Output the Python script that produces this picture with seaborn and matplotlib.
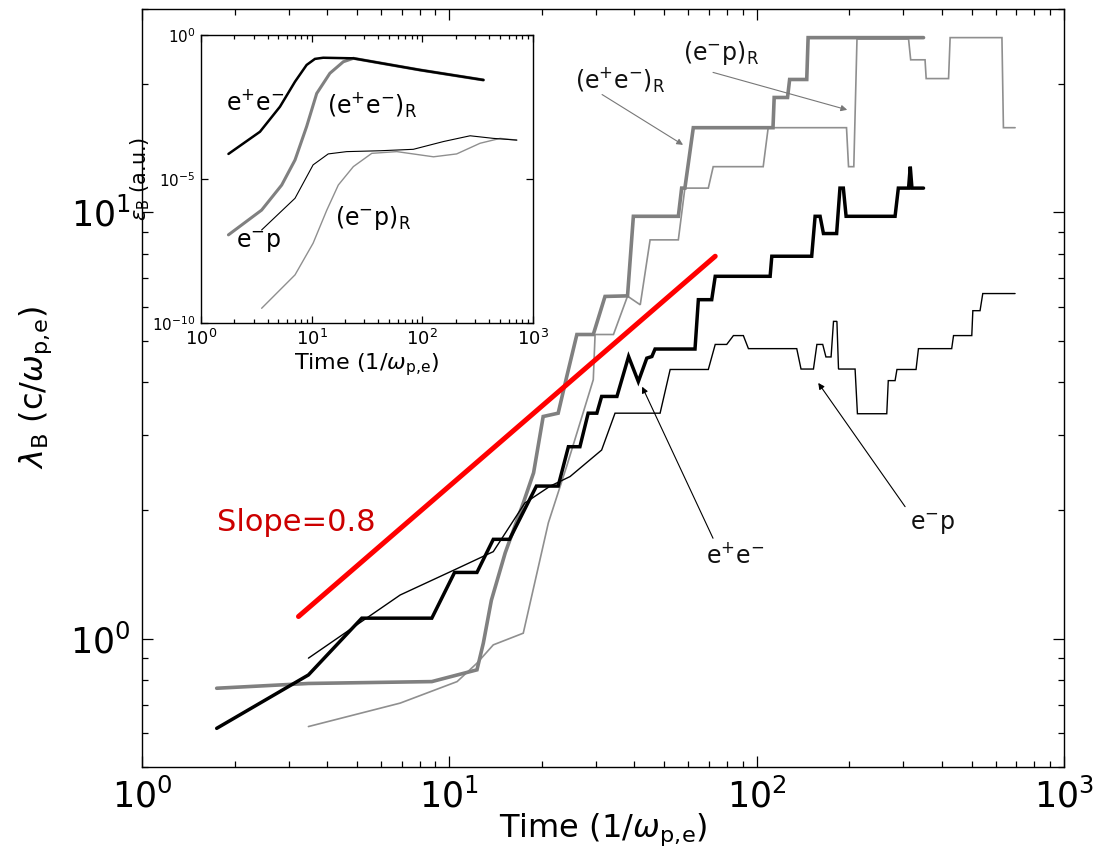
import numpy as np
import pandas as pd
import matplotlib
matplotlib.use('Agg')
import matplotlib.pyplot as plt
import seaborn as sns
from matplotlib.ticker import LogLocator, NullFormatter, NullLocator

sns.set_style("ticks")
plt.rcParams['font.family'] = ['DejaVu Sans']
plt.rcParams['mathtext.fontset'] = 'dejavusans'
for key in ['text.color', 'axes.labelcolor', 'xtick.color', 'ytick.color', 'axes.edgecolor']:
    plt.rcParams[key] = 'black'

# ---- main panel: lambda_B vs time ----
t_ee = [1.75, 3.48, 5.19, 8.77, 10.4, 12.3, 13.9, 15.7, 19.2, 22.6, 24.4, 26.6, 28.3, 30.2,
        31.3, 35.1, 38.3, 41.2, 43.9, 45.6, 46.7, 63.0, 64.6, 71.4, 73.3, 110.6, 112, 151,
        154.9, 160.8, 164.9, 182, 186.6, 191.4, 195.4, 282, 289, 312, 316, 320, 349]
lam_ee = [0.616, 0.822, 1.117, 1.117, 1.43, 1.43, 1.71, 1.71, 2.28, 2.28, 2.82, 2.82, 3.38, 3.38,
          3.70, 3.70, 4.59, 4.01, 4.55, 4.59, 4.78, 4.78, 6.24, 6.24, 7.08, 7.08, 7.89, 7.89,
          9.79, 9.79, 8.92, 8.92, 11.4, 11.4, 9.79, 9.79, 11.4, 11.4, 12.8, 11.4, 11.4]

t_ep = [3.48, 6.92, 10.6, 13.9, 17.6, 21.3, 24.7, 31.3, 34.6, 48.5, 52.3, 69.6, 73.3, 79.9,
        84, 90.5, 94, 135, 139.4, 153, 157, 164, 168, 174.6, 177.8, 182.4, 184.6, 209, 212.7,
        265, 268, 282, 286, 330, 336, 431, 437, 501, 505, 533, 544, 693]
lam_ep = [0.90, 1.266, 1.46, 1.60, 2.08, 2.28, 2.40, 2.77, 3.38, 3.38, 4.28, 4.28, 4.90, 4.90,
          5.14, 5.14, 4.79, 4.79, 4.29, 4.29, 4.90, 4.90, 4.58, 4.58, 5.55, 5.55, 4.29, 4.29, 3.37,
          3.37, 4.03, 4.03, 4.28, 4.28, 4.79, 4.79, 5.14, 5.14, 5.88, 5.88, 6.45, 6.45]

t_eeR = [1.75, 3.48, 8.77, 12.3, 12.9, 13.7, 15.2, 17.4, 18.8, 20.2, 22.6, 24.1, 26.0, 29.4,
         32.1, 38.0, 39.7, 55.6, 57.0, 58.4, 62.2, 113, 114, 126, 128, 145.5, 147, 349]
lam_eeR = [0.765, 0.785, 0.793, 0.845, 0.976, 1.23, 1.59, 2.08, 2.45, 3.32, 3.38, 4.12, 5.17, 5.17,
           6.35, 6.37, 9.79, 9.79, 11.4, 11.4, 15.8, 15.8, 18.6, 18.6, 20.5, 20.5, 25.7, 25.7]

t_epR = [3.48, 6.92, 10.6, 12.3, 13.9, 17.4, 21.0, 24.1, 29.4, 29.8, 34.2, 38.0, 41.8, 45.0,
         55.6, 58.4, 69.6, 72.2, 105, 109, 196, 199, 207, 212, 312, 317, 353, 356, 421, 426,
         628, 635, 693]
lam_epR = [0.622, 0.706, 0.793, 0.876, 0.967, 1.03, 1.87, 2.54, 4.05, 5.17, 5.17, 6.36, 6.07, 8.62,
           8.62, 11.4, 11.4, 12.8, 12.8, 15.8, 15.8, 12.8, 12.8, 25.5, 25.5, 22.8, 22.8, 20.6, 20.6,
           25.7, 25.7, 15.8, 15.8]

t_fit = [3.23, 73.3]
lam_fit = [1.127, 7.89]

# ---- inset: epsilon_B vs time ----
ti_ee = [1.77, 3.41, 5.17, 7.07, 9.0, 10.7, 12.7, 23.8, 95, 356]
eps_ee = [10**-4.13, 10**-3.36, 10**-2.49, 10**-1.62, 10**-1.04, 10**-0.83, 10**-0.79,
          10**-0.81, 10**-1.215, 10**-1.5625]
ti_eeR = [1.77, 3.53, 5.36, 7.07, 9.0, 11.1, 14.6, 19.3, 23.8, 95, 356]
eps_eeR = [10**-6.94, 10**-6.08, 10**-5.21, 10**-4.34, 10**-3.18, 10**-2.03, 10**-1.33,
           10**-0.93, 10**-0.81, 10**-1.215, 10**-1.5625]
ti_ep = [3.53, 7.07, 10.3, 14.1, 20.7, 41.4, 82.8, 155, 270, 438, 713]
eps_ep = [10**-6.77, 10**-5.67, 10**-4.51, 10**-4.13, 10**-4.05, 10**-4.02, 10**-3.97,
          10**-3.70, 10**-3.50, 10**-3.59, 10**-3.65]
ti_epR = [3.53, 7.07, 10.3, 13.7, 17.4, 23.8, 34.9, 58.7, 126, 204, 332, 504, 713]
eps_epR = [10**-9.49, 10**-8.33, 10**-7.23, 10**-6.08, 10**-5.21, 10**-4.57, 10**-4.11,
           10**-4.05, 10**-4.23, 10**-4.13, 10**-3.76, 10**-3.59, 10**-3.65]

BLACK = "#000000"
GRAY_THICK = "#808080"
GRAY_THIN = "#8f8f8f"
OMEGA = r"$\omega_{\mathrm{p,\!e}}$"


def draw(a, t, v, color, lw):
    sns.lineplot(x=t, y=v, ax=a, color=color, lw=lw, sort=False, estimator=None,
                 solid_joinstyle="miter")


def style_log_axes(a, major_len, minor_len, labelsize, pad):
    a.xaxis.set_major_locator(LogLocator(base=10, numticks=10))
    a.xaxis.set_minor_locator(LogLocator(base=10, subs=np.arange(2, 10), numticks=20))
    a.xaxis.set_minor_formatter(NullFormatter())
    a.tick_params(which="both", direction="in", top=True, right=True, width=0.9)
    a.tick_params(which="major", length=major_len, labelsize=labelsize, pad=pad)
    a.tick_params(which="minor", length=minor_len)
    for s in a.spines.values():
        s.set_linewidth(1.0)
        s.set_color("black")


fig = plt.figure(figsize=(10.93, 8.64), dpi=100)
ax = fig.add_axes([0.1299, 0.1123, 0.8436, 0.8773])
ax.set_xscale("log")
ax.set_yscale("log")

draw(ax, t_epR, lam_epR, GRAY_THIN, 1.2)
draw(ax, t_eeR, lam_eeR, GRAY_THICK, 2.6)
draw(ax, t_ep, lam_ep, BLACK, 1.0)
draw(ax, t_ee, lam_ee, BLACK, 2.5)
draw(ax, t_fit, lam_fit, "#ff0000", 3.6)

ax.set_xlim(1, 1000)
ax.set_ylim(0.5, 30)
style_log_axes(ax, 8, 4.5, 25, 8)
ax.yaxis.set_major_locator(LogLocator(base=10, numticks=10))
ax.yaxis.set_minor_locator(LogLocator(base=10, subs=np.arange(2, 10), numticks=20))
ax.yaxis.set_minor_formatter(NullFormatter())
ax.set_xlabel("Time (1/" + OMEGA + ")", fontsize=23, labelpad=-2)
ax.set_ylabel(r"$\lambda_{\mathrm{B}}$ (c/" + OMEGA + ")", fontsize=23, labelpad=12)

ax.text(1.75, 1.87, "Slope=0.8", color="#cc0000", fontsize=22, va="center", ha="left")

arrow_gray = dict(arrowstyle="-|>", color="#777777", lw=0.8, mutation_scale=9, shrinkA=0, shrinkB=0)
arrow_black = dict(arrowstyle="-|>", color="black", lw=0.8, mutation_scale=9, shrinkA=0, shrinkB=0)
ax.annotate("", xy=(57.6, 14.4), xytext=(31.4, 18.9), arrowprops=arrow_gray)
ax.text(35.9, 20.4, r"(e$^{+}$e$^{-}$)$_{\mathrm{R}}$", fontsize=17, ha="center", va="center",
        color="#111111")
ax.annotate("", xy=(197, 17.4), xytext=(72.1, 21.3), arrowprops=arrow_gray)
ax.text(76.6, 23.6, r"(e$^{-}$p)$_{\mathrm{R}}$", fontsize=17, ha="center", va="center",
        color="#111111")
ax.annotate("", xy=(42.4, 3.90), xytext=(72.1, 1.72), arrowprops=arrow_black)
ax.text(85, 1.57, r"e$^{+}$e$^{-}$", fontsize=17, ha="center", va="center", color="#111111")
ax.annotate("", xy=(158.6, 3.98), xytext=(304, 2.04), arrowprops=arrow_black)
ax.text(372, 1.85, r"e$^{-}$p", fontsize=17, ha="center", va="center", color="#111111")

# ---- inset ----
ins = fig.add_axes([0.1839, 0.6262, 0.3038, 0.3333])
ins.set_facecolor("white")
ins.set_xscale("log")
ins.set_yscale("log")
draw(ins, ti_epR, eps_epR, GRAY_THIN, 1.0)
draw(ins, ti_ep, eps_ep, BLACK, 0.8)
draw(ins, ti_eeR, eps_eeR, GRAY_THICK, 2.2)
draw(ins, ti_ee, eps_ee, BLACK, 1.8)
ins.set_xlim(1, 1000)
ins.set_ylim(1e-10, 1)
style_log_axes(ins, 5, 3, 13, 4)
ins.set_yticks([1e-10, 1e-5, 1])
ins.yaxis.set_minor_locator(NullLocator())
ins.tick_params(axis="y", labelsize=11)
ins.set_xlabel("Time (1/" + OMEGA + ")", fontsize=16, labelpad=2)
ins.set_ylabel(r"$\varepsilon_{\mathrm{B}}$ (a.u.)", fontsize=15, labelpad=0)

ins.text(3.08, 10**-2.36, r"e$^{+}$e$^{-}$", fontsize=17, ha="center", va="center")
ins.text(13.8, 10**-2.43, r"(e$^{+}$e$^{-}$)$_{\mathrm{R}}$", fontsize=17, ha="left", va="center")
ins.text(16.3, 10**-6.35, r"(e$^{-}$p)$_{\mathrm{R}}$", fontsize=17, ha="left", va="center")
ins.text(3.34, 10**-7.22, r"e$^{-}$p", fontsize=17, ha="center", va="center")

fig.savefig("out.png", dpi=100)
